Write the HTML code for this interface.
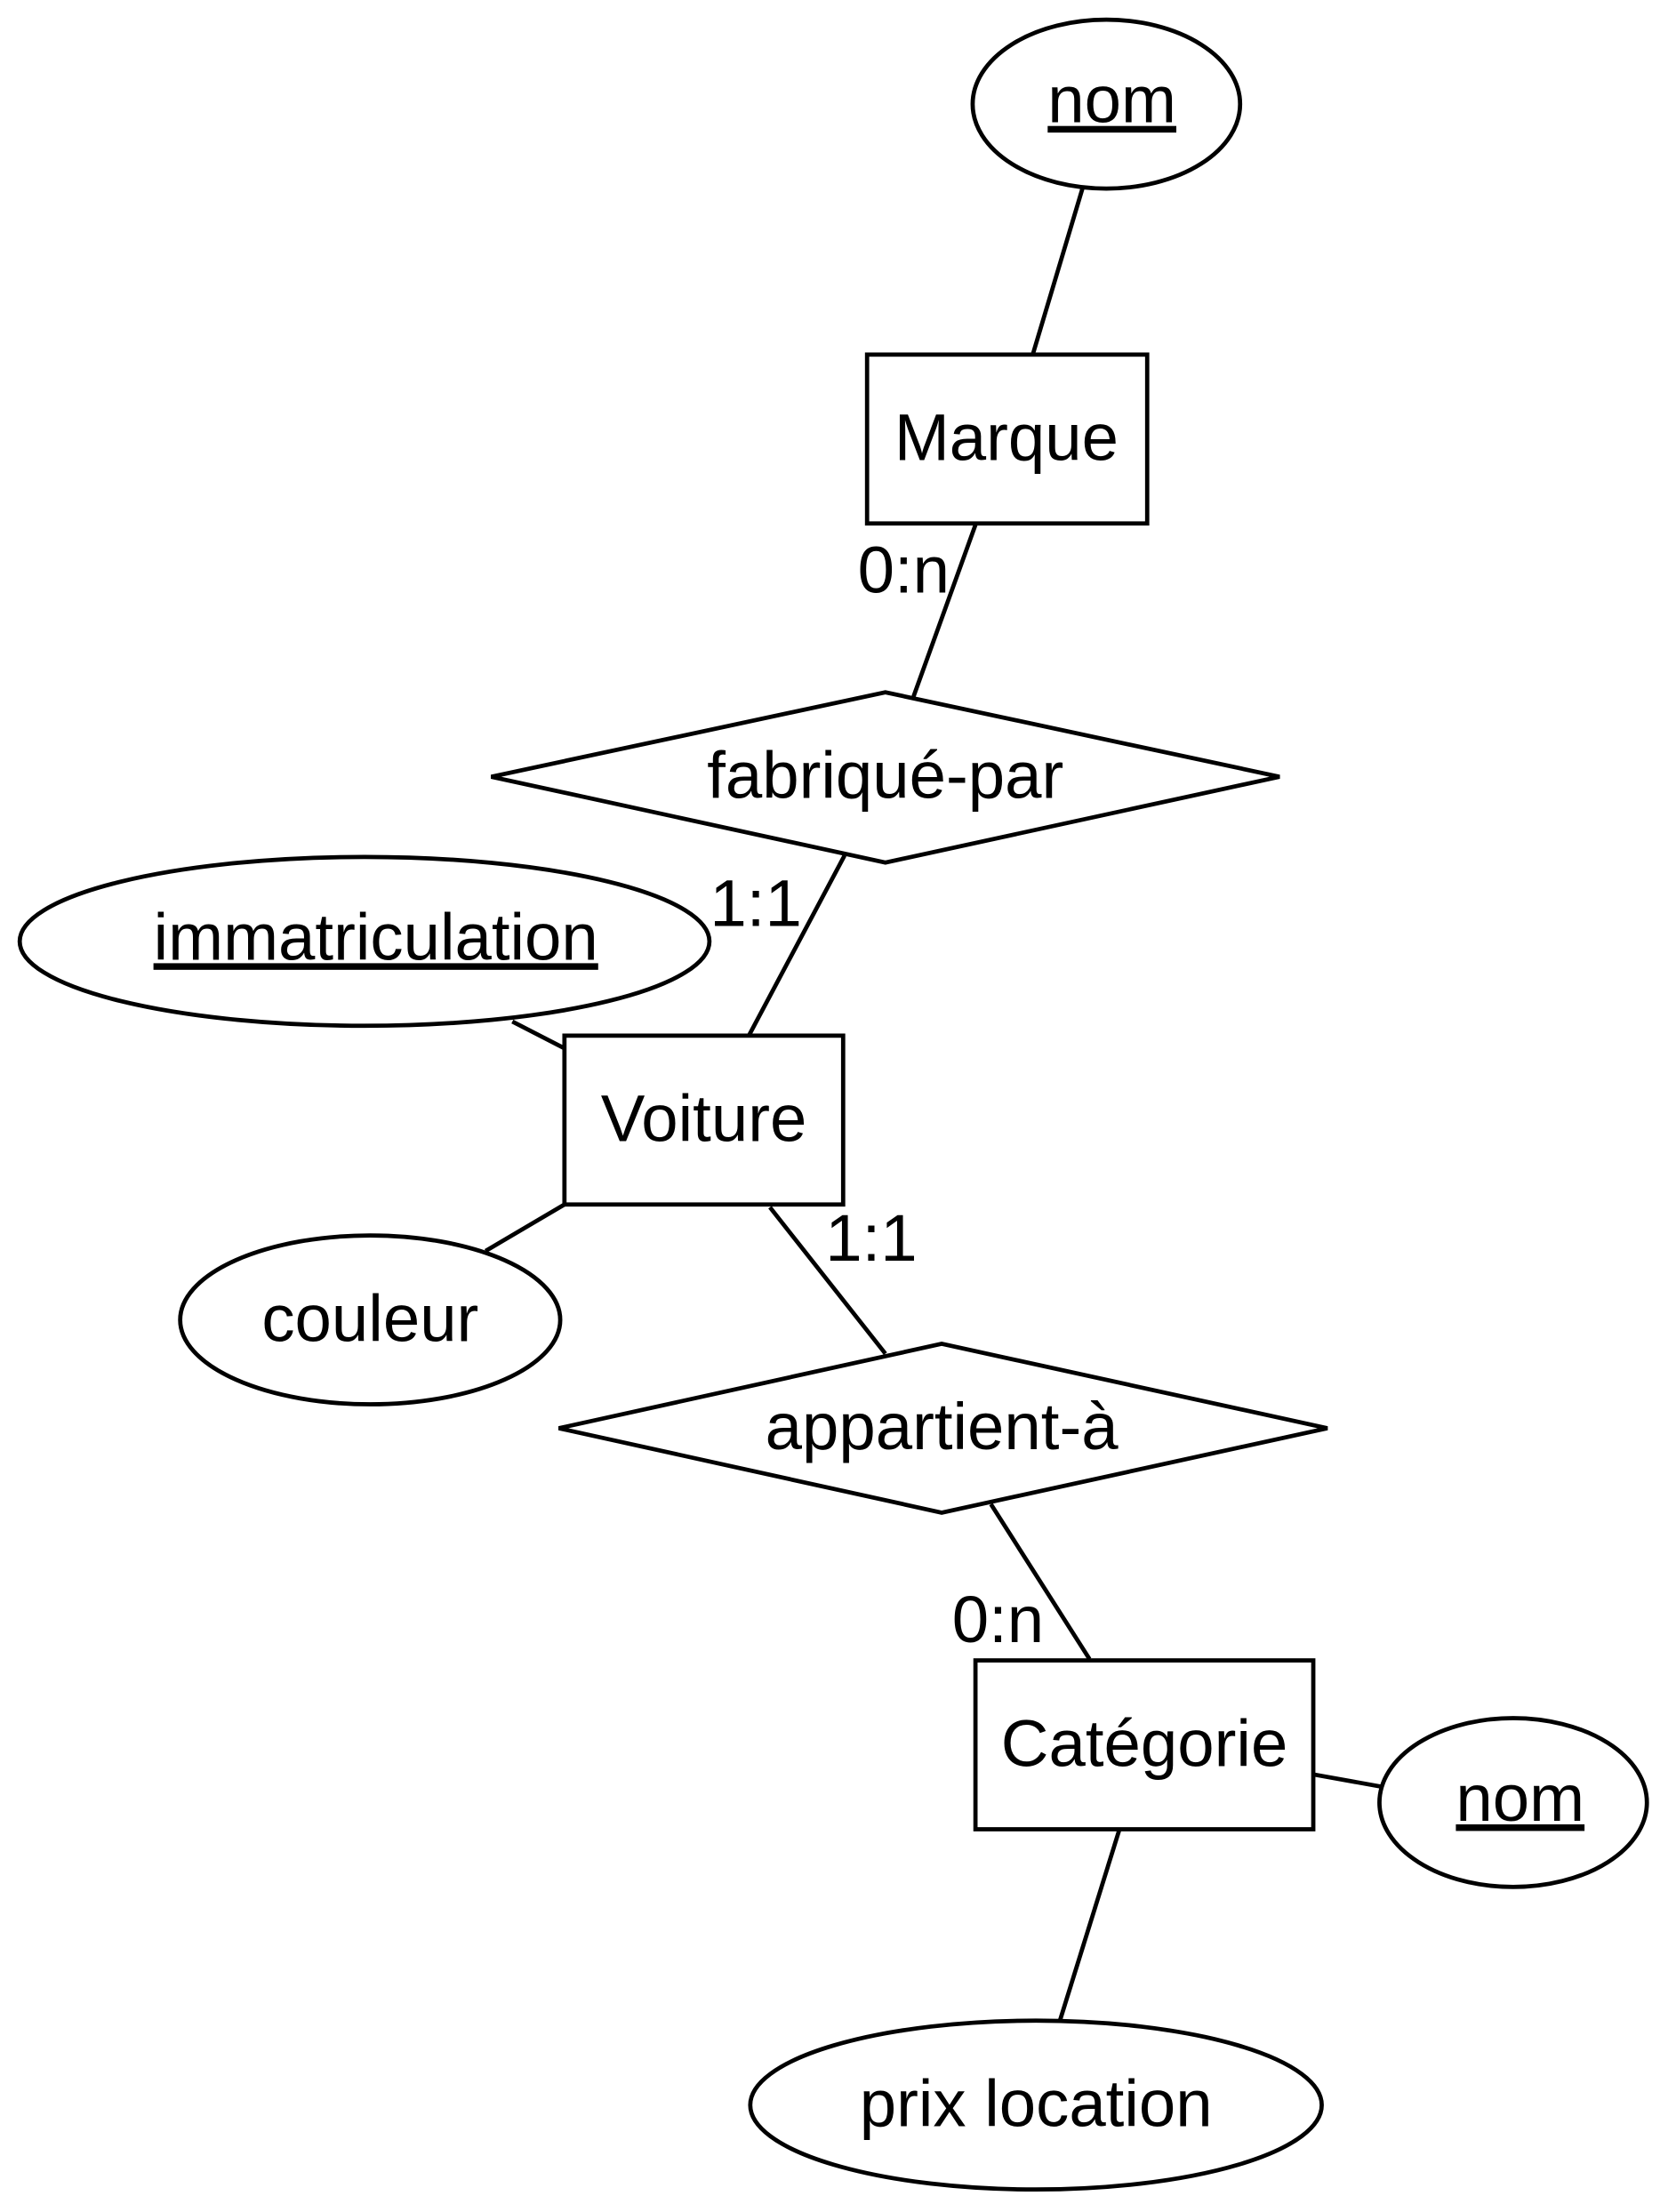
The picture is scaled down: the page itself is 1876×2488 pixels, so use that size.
<!DOCTYPE html>
<html><head><meta charset="utf-8"><style>
html,body{margin:0;padding:0;background:#fff}
svg{display:block}
text{font-family:"Liberation Sans",Arial,sans-serif;font-size:47px;fill:#000}
</style></head><body>
<svg width="1876" height="2488" viewBox="0 0 1185 1572" preserveAspectRatio="none" xmlns="http://www.w3.org/2000/svg">
<g transform="translate(2,1)">
<g fill="#fff" stroke="#000" stroke-width="3">
<line x1="767" y1="133" x2="732" y2="250"/>
<line x1="691" y1="372" x2="647" y2="494"/>
<line x1="598" y1="607" x2="530" y2="735"/>
<line x1="362" y1="725" x2="399" y2="744"/>
<line x1="343" y1="888" x2="399" y2="855"/>
<line x1="545" y1="857" x2="627" y2="961"/>
<line x1="702" y1="1068" x2="772" y2="1178"/>
<line x1="931" y1="1260" x2="981" y2="1269"/>
<line x1="793" y1="1300" x2="751" y2="1435"/>
<ellipse cx="784" cy="73" rx="95" ry="60"/>
<rect x="614" y="251" width="199" height="120"/>
<polygon points="347,551 627,491 907,551 627,612"/>
<ellipse cx="257" cy="668" rx="245" ry="60"/>
<rect x="399" y="735" width="198" height="120"/>
<ellipse cx="261" cy="937" rx="135" ry="60"/>
<polygon points="395,1014 667,954 941,1014 667,1074"/>
<rect x="691" y="1179" width="240" height="120"/>
<ellipse cx="1073" cy="1280" rx="95" ry="60"/>
<ellipse cx="734" cy="1495" rx="203" ry="60"/>
</g>
<g text-anchor="middle">
<text x="788" y="86" text-decoration="underline">nom</text>
<text x="713" y="326">Marque</text>
<text x="627" y="566">fabriqué-par</text>
<text x="265" y="681" text-decoration="underline">immatriculation</text>
<text x="498" y="810">Voiture</text>
<text x="261" y="952">couleur</text>
<text x="667" y="1029">appartient-à</text>
<text x="811" y="1254">Catégorie</text>
<text x="1078" y="1293" text-decoration="underline">nom</text>
<text x="734" y="1510">prix location</text>
<text x="640" y="420">0:n</text>
<text x="535" y="657">1:1</text>
<text x="617" y="895">1:1</text>
<text x="707" y="1166">0:n</text>
</g>
</g>
</svg>
</body></html>
